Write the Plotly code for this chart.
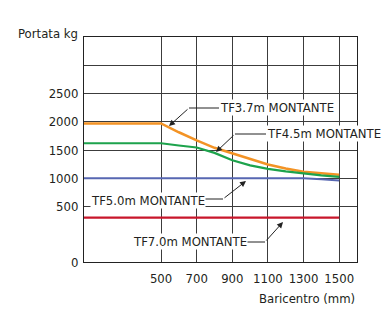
import plotly.graph_objects as go

# ---- data ----
x_vals = [0, 500, 600, 700, 800, 900, 1000, 1100, 1200, 1300, 1400, 1500]
tf37 = [1970, 1970, 1815, 1670, 1540, 1440, 1335, 1245, 1175, 1115, 1088, 1065]
tf45 = [1620, 1620, 1580, 1545, 1450, 1320, 1230, 1168, 1122, 1083, 1052, 1025]
tf50 = [1000, 1000, 1000, 1000, 1000, 1000, 1000, 1000, 1000, 1000, 985, 960]
tf70 = [400, 400, 400, 400, 400, 400, 400, 400, 400, 400, 400, 400]

series_names = ["TF3.7m MONTANTE", "TF4.5m MONTANTE", "TF5.0m MONTANTE", "TF7.0m MONTANTE"]
series_colors = ["#F39325", "#1DA34C", "#5767B2", "#C8162B"]

x_ticks = [500, 700, 900, 1100, 1300, 1500]
y_ticks = [0, 500, 1000, 1500, 2000, 2500, 3000, 3500]
y_tick_text = ["0", "500", "1000", "1500", "2000", "2500", "", ""]

# ---- broken-axis scales (the chart compresses/stretches the low segment) ----
X_LOW = 0.865   # 0..500 segment of x
Y_LOW = 1.961   # 0..500 segment of y


def xdisp(v):
    return v if v >= 500 else 500 - (500 - v) * X_LOW


def ydisp(v):
    return v if v >= 500 else 500 - (500 - v) * Y_LOW


W, H = 386, 311
L, R, T, B = 84, 357, 37, 262


def px(xp):
    return (xp - L) / (R - L)


def py(yp):
    return (B - yp) / (B - T)


FONT = "DejaVu Sans Condensed, Liberation Sans Narrow, sans-serif"
TXT = "#231F20"
GRID = "#3c3c3c"

fig = go.Figure()
for name, vals, col, w in zip(series_names, [tf37, tf45, tf50, tf70], series_colors,
                              [2.5, 2.2, 2.0, 2.2]):
    fig.add_trace(go.Scatter(
        x=[xdisp(v) for v in x_vals], y=[ydisp(v) for v in vals],
        mode="lines", name=name, line=dict(color=col, width=w),
        hoverinfo="skip", showlegend=False))

fig.update_layout(
    width=W, height=H, autosize=False,
    margin=dict(l=L, r=W - R, t=T, b=H - B, pad=0),
    paper_bgcolor="white", plot_bgcolor="white",
    font=dict(family=FONT, size=13, color=TXT),
    xaxis=dict(range=[xdisp(0), 1600], tickvals=[xdisp(t) for t in x_ticks],
               ticktext=[str(t) for t in x_ticks], showgrid=True,
               gridcolor=GRID, gridwidth=1, showline=True, linecolor="#222",
               linewidth=1, mirror=True, zeroline=False, ticks="",
               ticklabelstandoff=4, fixedrange=True),
    yaxis=dict(range=[ydisp(0), 3500], tickvals=[ydisp(t) for t in y_ticks],
               ticktext=y_tick_text, showgrid=True, gridcolor=GRID,
               gridwidth=1, showline=True, linecolor="#222", linewidth=1,
               mirror=True, zeroline=False, ticks="", ticklabelstandoff=2,
               fixedrange=True),
)

# axis titles
fig.add_annotation(text="Portata kg", xref="paper", yref="paper", x=px(16), y=py(33),
                   xanchor="left", yanchor="middle", showarrow=False)
fig.add_annotation(text="Baricentro (mm)", xref="paper", yref="paper", x=px(357), y=py(298),
                   xanchor="right", yanchor="middle", showarrow=False)

# series labels with bent leader lines
labels = [
    # text left, text y, leader start, leader end, arrow tail, arrow head
    (series_names[0], 219, 107, (189, 108), (219, 108), (189, 108), (169, 126)),
    (series_names[1], 266, 133, (235, 134), (266, 134), (235, 134), (216, 152)),
    (series_names[2], 90, 200, (203, 199), (223, 199), (223, 199), (246, 181)),
    (series_names[3], 132, 241, (245, 242), (265, 242), (265, 242), (283, 222)),
]
for name, tx, ty, (x0, y0), (x1, y1), (tlx, tly), (hx, hy) in labels:
    fig.add_shape(type="line", xref="paper", yref="paper", x0=px(x0), y0=py(y0),
                  x1=px(x1), y1=py(y1), line=dict(color="#222", width=1))
    fig.add_annotation(text="", xref="paper", yref="paper", x=px(hx), y=py(hy),
                       ax=tlx - hx, ay=tly - hy, showarrow=True,
                       arrowhead=2, arrowsize=1.2, arrowwidth=1, arrowcolor="#222")
    fig.add_annotation(text=name, xref="paper", yref="paper", x=px(tx), y=py(ty),
                       xanchor="left", yanchor="middle", showarrow=False,
                       bgcolor="white", borderpad=0)

fig.write_html("out.html", config={"displayModeBar": False},
               post_script="document.body.style.margin='0';")
